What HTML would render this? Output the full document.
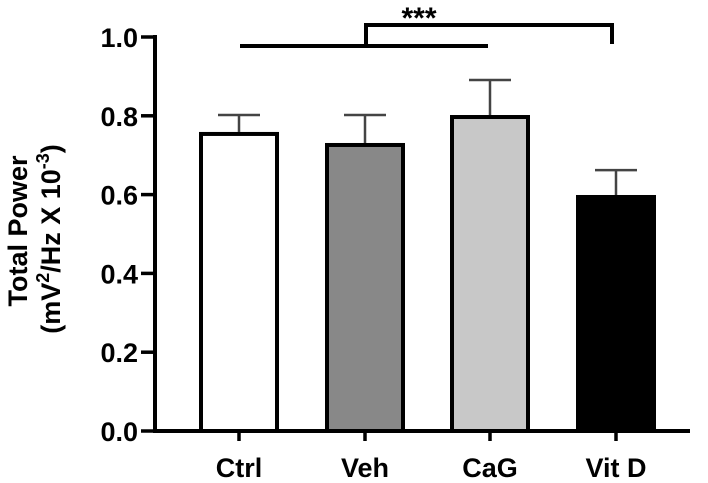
<!DOCTYPE html>
<html><head><meta charset="utf-8"><style>
body{margin:0;background:#fff;}
svg{display:block;font-family:"Liberation Sans",Arial,sans-serif;font-weight:bold;}
</style></head><body>
<svg id="c" width="708" height="483"></svg>
<script>
const categories=["Ctrl","Veh","CaG","Vit D"];
const values=[0.759,0.731,0.802,0.599];
const errors=[0.043,0.071,0.089,0.063];
const fills=["#ffffff","#888888","#c8c8c8","#000000"];
const yTicks=[0,0.2,0.4,0.6,0.8,1.0];
const yTickLabels=["0.0","0.2","0.4","0.6","0.8","1.0"];
const NS="http://www.w3.org/2000/svg";
const svg=document.getElementById('c');
const y0=431,y1=37,xAxis=155;
const centers=[239,365,490,616],bw=80;
function y(v){return y0-(y0-y1)*v;}
function xc(i){return centers[i];}
function mk(t,a,p){const e=document.createElementNS(NS,t);for(const k in a)e.setAttribute(k,a[k]);(p||svg).appendChild(e);return e;}
categories.forEach((c,i)=>{
  const g=mk('g',{});
  
  
  mk('line',{x1:xc(i),x2:xc(i),y1:y(values[i]),y2:y(values[i]+errors[i]),stroke:'#444','stroke-width':2.5},g);
  mk('line',{x1:xc(i)-21,x2:xc(i)+21,y1:y(values[i]+errors[i]),y2:y(values[i]+errors[i]),stroke:'#444','stroke-width':2.5},g);
  mk('rect',{x:xc(i)-bw/2+2,y:y(values[i])+2,width:bw-4,height:y0-y(values[i])-2,fill:fills[i],stroke:'#000','stroke-width':4},g);
  const t=mk('text',{x:xc(i),y:477,'text-anchor':'middle','font-size':27});t.textContent=c;
  
  
  mk('line',{x1:xc(i),x2:xc(i),y1:y0,y2:y0+10,stroke:'#000','stroke-width':3.5});
});
const ax=mk('g',{});


mk('line',{x1:xAxis,x2:xAxis,y1:y1-2,y2:y0+2,stroke:'#000','stroke-width':4},ax);
mk('line',{x1:xAxis-2,x2:690,y1:y0,y2:y0,stroke:'#000','stroke-width':4},ax);
yTicks.forEach((v,i)=>{
  mk('line',{x1:xAxis-14,x2:xAxis,y1:y(v),y2:y(v),stroke:'#000','stroke-width':3.5},ax);
  const t=mk('text',{x:xAxis-17,y:y(v)+10,'text-anchor':'end','font-size':27},ax);t.textContent=yTickLabels[i];
  
  
});
const tt=mk('text',{transform:'translate(27,231) rotate(-90)','text-anchor':'middle','font-size':27});
tt.textContent='Total Power';


const t2=mk('text',{transform:'translate(60,239) rotate(-90)','text-anchor':'middle','font-size':27});
t2.innerHTML='(mV<tspan dy="-11" font-size="18">2</tspan><tspan dy="11">/Hz X 10</tspan><tspan dy="-11" font-size="18">-3</tspan><tspan dy="11">)</tspan>';


const br=mk('g',{fill:'none',stroke:'#000','stroke-width':4});


mk('line',{x1:240,x2:488,y1:46,y2:46},br);
mk('polyline',{points:'366,46 366,25 612,25 612,44'},br);
const st=mk('text',{x:419,y:28,'text-anchor':'middle','font-size':30});st.textContent='***';


</script>
</body></html>
